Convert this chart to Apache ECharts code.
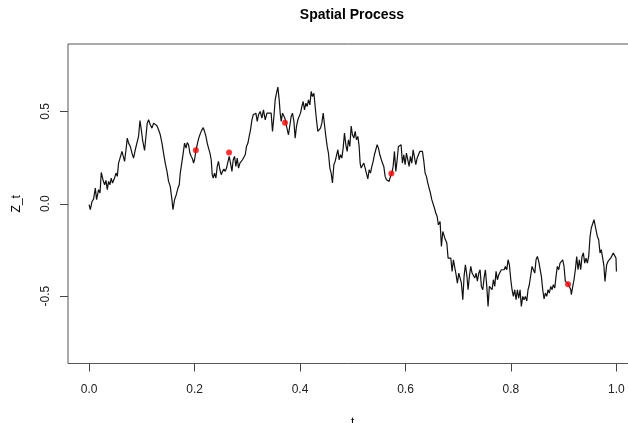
<!DOCTYPE html>
<html>
<head>
<meta charset="utf-8">
<script src="https://cdn.jsdelivr.net/npm/echarts@6/dist/echarts.min.js"></script>
<style>
  html, body { margin: 0; padding: 0; background: #fff; }
  #chart { width: 628px; height: 423px; }
</style>
</head>
<body>
<div id="chart"></div>
<script>
// Sampled path of the process Z_t on [0, 1]
const pathT = [
  0.000,0.0023,0.0055,0.0085,0.0118,0.0142,0.018,0.0207,0.0231,0.0263,0.0294,0.032,0.0345,0.037,0.0396,0.042,0.0445,0.0483,0.051,0.0535,
  0.0559,0.0591,0.0624,0.0654,0.0673,0.070,0.0724,0.0749,0.0781,0.0813,0.0843,0.0876,0.0908,0.0938,0.0965,0.099,0.1014,0.1052,0.1078,0.1103,
  0.1128,0.116,0.1192,0.1223,0.1255,0.1287,0.1317,0.135,0.1382,0.1412,0.1444,0.1477,0.1507,0.1539,0.1571,0.159,0.1621,0.1653,0.1685,0.171,
  0.1729,0.1761,0.1785,0.181,0.1837,0.1861,0.1886,0.1912,0.1937,0.1962,0.1981,0.200,0.2026,0.2064,0.2089,0.2113,0.214,0.2165,0.2189,0.2216,
  0.224,0.2265,0.2292,0.2316,0.2335,0.2354,0.2379,0.2405,0.243,0.2454,0.2481,0.2506,0.253,0.2557,0.2582,0.2606,0.2633,0.2657,0.2682,0.2709,
  0.2733,0.2758,0.2784,0.2809,0.2834,0.286,0.2885,0.2909,0.2936,0.2961,0.2985,0.3012,0.3036,0.3061,0.3088,0.3112,0.3137,0.3163,0.3188,0.3213,
  0.3245,0.3277,0.3307,0.334,0.3372,0.3402,
  0.3453,0.3478,0.3505,0.3529,0.3554,0.358,0.3605,0.3624,0.3643,0.3668,0.3687,0.3713,0.3738,0.3757,0.3781,0.3808,0.3832,0.3857,0.3884,0.3908,
  0.3933,0.3959,0.3984,0.4009,0.4035,0.406,0.4085,0.4111,0.4136,0.416,0.4187,0.4212,0.4236,0.4263,0.4287,0.4312,0.4338,0.4363,0.4388,0.4414,
  0.4439,0.4464,0.449,0.4515,0.4539,0.4566,0.4591,0.4615,0.4642,0.4666,0.4691,0.4718,0.4742,0.4767,0.4793,0.4818,0.4843,0.4869,0.4894,0.4918,
  0.4945,0.497,0.4994,0.5021,0.5046,0.507,0.5097,0.5121,0.514,
  0.5159,0.5184,0.521,0.5235,0.526,0.5286,0.5311,0.5336,0.5362,0.5387,0.5411,0.5438,0.5463,0.5487,0.5514,0.5538,0.5563,0.5589,0.5614,0.5639,
  0.5665,0.569,0.5715,0.5741,0.5766,0.5791,0.5817,0.5842,0.5866,0.5893,0.5917,0.5942,0.5968,0.5993,0.6018,0.6044,0.6069,0.6094,0.612,0.6145,
  0.617,0.6196,0.6221,0.6245,0.6272,0.6297,0.6321,0.6348,0.6372,0.6397,0.6423,0.6448,0.6473,0.6499,0.6524,0.6549,
  0.6575,0.66,0.6624,0.6656,0.6681,0.6708,0.6732,0.6757,0.6784,0.6808,0.6833,0.6859,0.6884,0.6909,0.6935,0.696,0.6984,0.7011,0.7036,0.706,
  0.7087,0.7111,0.7136,0.7163,0.7187,0.7212,0.7238,0.7263,0.7288,0.7314,0.7339,0.7363,0.739,0.7415,0.7439,0.7466,0.749,0.7515,0.7542,0.7566,
  0.7591,0.7617,0.7642,0.7667,0.7693,0.7718,0.7743,0.7769,0.7794,0.7818,0.7845,0.787,0.7894,0.7921,0.7945,0.797,0.7997,0.8021,0.8046,0.8072,
  0.8097,0.8122,0.8148,0.8173,0.8197,0.8224,0.8249,0.8273,0.83,0.8324,0.8349,0.8376,
  0.84,0.8425,0.8452,0.8476,0.8501,0.8527,0.8552,0.8577,0.8603,0.8628,0.8652,0.8679,0.8704,0.8728,0.8755,0.878,0.8804,0.8831,0.8855,0.888,
  0.8906,0.8931,0.8956,0.8982,0.9007,0.9031,0.9058,0.9083,0.9107,0.9134,0.9145,0.9172,0.9196,0.9221,0.9247,0.9272,0.9297,0.9323,0.9348,0.9373,
  0.9399,0.9424,0.9449,0.9475,0.95,0.9524,0.9551,0.9575,0.96,0.9613,0.9638,0.9664,0.9689,0.9714,0.974,0.9764,0.9783,0.9815,0.9841,0.9865,
  0.9892,0.9917,0.9941,0.9968,0.9992,1.0
];
const pathZ = [
  -0.005,-0.032,0.012,0.025,0.085,0.022,0.076,0.058,0.169,0.130,0.103,0.126,0.076,0.121,0.103,0.139,0.112,0.139,0.166,0.148,
  0.220,0.211,0.283,0.274,0.229,0.292,0.355,0.328,0.310,0.274,0.247,0.292,0.296,0.364,0.450,0.400,0.346,0.288,0.364,0.436,
  0.454,0.427,0.409,0.436,0.439,0.422,0.400,0.373,0.328,0.274,0.220,0.175,0.121,0.094,0.022,-0.032,0.022,0.049,0.085,0.103,
  0.166,0.175,0.274,0.328,0.301,0.331,0.319,0.274,0.256,0.242,0.220,0.238,0.288,0.337,0.364,0.382,0.400,0.412,0.391,0.364,
  0.328,0.301,0.274,0.238,0.157,0.139,0.166,0.139,0.202,0.229,0.184,0.157,0.175,0.188,0.175,0.193,0.184,0.256,0.220,0.175,
  0.238,0.256,0.202,0.247,0.193,0.220,0.211,0.238,0.229,0.265,0.310,0.328,0.364,0.400,0.454,0.481,0.472,0.490,0.445,0.481,
  0.499,0.463,0.508,0.454,0.490,0.499,
  0.490,0.391,0.472,0.562,0.598,0.631,0.562,0.490,0.445,0.490,0.499,0.463,0.427,0.427,0.373,0.382,0.472,0.490,0.445,0.355,
  0.418,0.454,0.445,0.490,0.526,0.553,0.508,0.544,0.526,0.562,0.535,0.607,0.580,0.598,0.526,0.454,0.391,0.400,0.409,0.436,
  0.490,0.499,0.364,0.310,0.274,0.193,0.166,0.112,0.211,0.229,0.238,0.292,0.238,0.265,0.247,0.301,0.382,0.319,0.283,0.346,
  0.310,0.420,0.373,0.355,0.391,0.346,0.364,0.310,0.220,
  0.193,0.200,0.220,0.193,0.202,0.134,0.184,0.166,0.202,0.229,0.265,0.256,0.319,0.301,0.265,0.256,0.220,0.202,0.148,0.130,
  0.139,0.121,0.148,0.166,0.202,0.283,0.175,0.238,0.310,0.319,0.319,0.220,0.265,0.211,0.274,0.283,0.202,0.256,0.220,0.292,
  0.301,0.211,0.247,0.256,0.283,0.274,0.283,0.229,0.166,0.148,0.112,0.085,0.058,0.022,0.012,-0.023,
  -0.050,-0.069,-0.114,-0.096,-0.231,-0.150,-0.141,-0.195,-0.212,-0.294,-0.303,-0.294,-0.366,-0.303,-0.312,-0.384,-0.429,-0.375,-0.402,-0.429,
  -0.519,-0.393,-0.330,-0.384,-0.465,-0.393,-0.339,-0.375,-0.366,-0.402,-0.375,-0.418,-0.375,-0.357,-0.447,-0.465,-0.402,-0.357,-0.447,-0.555,
  -0.447,-0.438,-0.465,-0.411,-0.447,-0.366,-0.411,-0.384,-0.375,-0.357,-0.348,-0.357,-0.339,-0.357,-0.303,-0.330,-0.411,-0.465,-0.501,-0.465,
  -0.519,-0.465,-0.510,-0.465,-0.555,-0.501,-0.519,-0.501,-0.526,-0.465,-0.438,-0.429,
  -0.339,-0.348,-0.375,-0.303,-0.285,-0.312,-0.321,-0.393,-0.465,-0.515,-0.483,-0.501,-0.465,-0.483,-0.447,-0.465,-0.438,-0.456,-0.393,-0.339,
  -0.357,-0.321,-0.321,-0.303,-0.339,-0.420,-0.420,-0.432,-0.447,-0.465,-0.492,-0.447,-0.411,-0.357,-0.285,-0.357,-0.303,-0.357,-0.285,-0.266,
  -0.321,-0.294,-0.321,-0.285,-0.177,-0.131,-0.122,-0.086,-0.077,-0.141,-0.177,-0.195,-0.266,-0.249,-0.294,-0.339,-0.420,-0.330,-0.312,-0.321,
  -0.294,-0.303,-0.266,-0.257,-0.294,-0.366
];

// Observed locations (red points)
const obsT = [0.2024, 0.2654, 0.3715, 0.5732, 0.9083];
const obsZ = [0.290, 0.277, 0.438, 0.164, -0.436];

// Tick positions
const xTicks = [0, 0.2, 0.4, 0.6, 0.8, 1.0];
const yTicks = [-0.5, 0, 0.5];

const chart = echarts.init(document.getElementById('chart'), null, { renderer: 'canvas' });
const font = 'Liberation Sans';

chart.setOption({
  animation: false,
  backgroundColor: '#ffffff',
  graphic: [{
    type: 'text',
    x: 352, y: 15,
    style: {
      text: 'Spatial Process',
      font: 'bold 14px "Liberation Sans"',
      fill: '#000',
      textAlign: 'center',
      textVerticalAlign: 'middle'
    }
  }],
  grid: {
    left: 68, top: 44, width: 569.5, height: 319.5,
    show: true, borderColor: '#555', borderWidth: 1,
    backgroundColor: 'transparent',
    outerBoundsMode: 'none'
  },
  xAxis: {
    type: 'value', min: -0.04, max: 1.04, position: 'bottom',
    name: 't', nameLocation: 'middle', nameGap: 53,
    nameTextStyle: { fontFamily: font, fontSize: 12, color: '#000' },
    axisLine: { show: false, onZero: false },
    axisTick: { show: true, customValues: xTicks, length: 8, lineStyle: { color: '#444' } },
    axisLabel: { customValues: xTicks, margin: 20, fontFamily: font, fontSize: 12, color: '#222',
                 formatter: v => v.toFixed(1) },
    splitLine: { show: false }
  },
  yAxis: {
    type: 'value', min: -0.864, max: 0.864, position: 'left',
    name: 'Z_t', nameLocation: 'middle', nameGap: 45,
    nameTextStyle: { fontFamily: font, fontSize: 12, color: '#000' },
    axisLine: { show: false, onZero: false },
    axisTick: { show: true, customValues: yTicks, length: 8, lineStyle: { color: '#444' } },
    axisLabel: { customValues: yTicks, rotate: 90, margin: 16, fontFamily: font, fontSize: 12, color: '#222',
                 formatter: v => v.toFixed(1) },
    splitLine: { show: false }
  },
  series: [
    {
      type: 'line',
      data: pathT.map((t, i) => [t, pathZ[i]]),
      showSymbol: false,
      lineStyle: { color: '#111', width: 1.2 },
      silent: true,
      z: 2
    },
    {
      type: 'scatter',
      data: obsT.map((t, i) => [t, obsZ[i]]),
      symbol: 'circle',
      symbolSize: 6,
      itemStyle: { color: '#ff0000' },
      z: 3
    }
  ]
});
</script>
</body>
</html>
